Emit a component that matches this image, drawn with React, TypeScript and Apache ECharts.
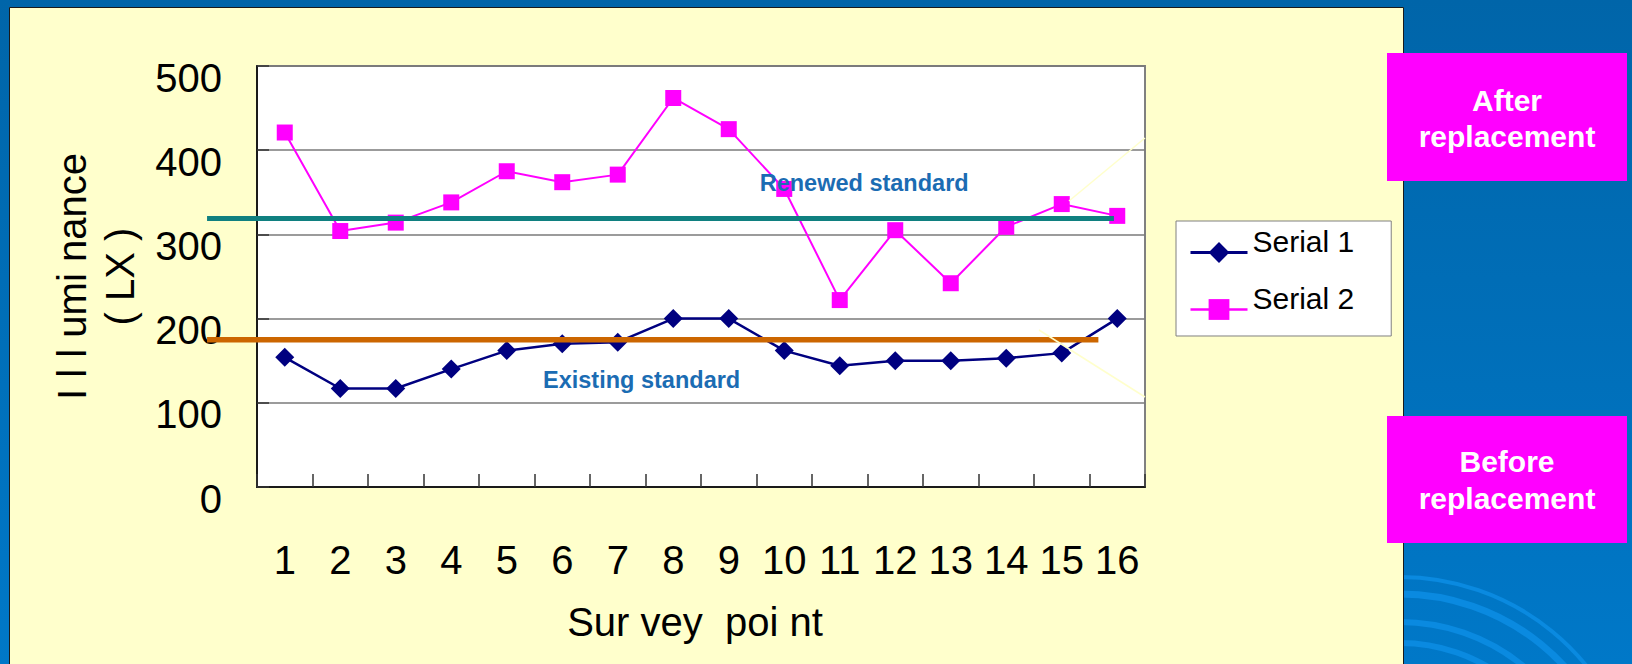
import React, { useEffect, useRef } from "react";
import * as echarts from "echarts";

const categories = ["1", "2", "3", "4", "5", "6", "7", "8", "9", "10", "11", "12", "13", "14", "15", "16"];
const serial1 = [154, 117, 117, 140, 162, 170, 172, 200, 200, 162, 144, 150, 150, 153, 159, 200];
const serial2 = [421, 304, 314, 338, 375, 362, 371, 462, 425, 354, 222, 305, 242, 309, 336, 322];
const seriesNames = ["Serial 1", "Serial 2"];
const renewedStandard = 319;
const existingStandard = 175;
const renewedLabel = "Renewed standard";
const existingLabel = "Existing standard";
const yMin = 0;
const yMax = 500;
const yInterval = 100;
const xAxisTitle = "Sur vey  poi nt";
const yAxisTitle = "I l l umi nance\n( LX )";
const afterText = "After\nreplacement";
const beforeText = "Before\nreplacement";

const FONT = "'Liberation Sans', Arial, 'Noto Sans CJK SC', sans-serif";

export default function App() {
  const ref = useRef<HTMLDivElement>(null);

  useEffect(() => {
    const el = ref.current!;
    const chart = echarts.init(el, null, { renderer: "svg", width: 1632, height: 664 });

    const baseGraphics: any[] = [
      {
        id: "bg",
        type: "rect",
        z: -20,
        silent: true,
        shape: { x: 0, y: 0, width: 1632, height: 664 },
        style: {
          fill: {
            type: "linear", x: 0, y: 0, x2: 0, y2: 1,
            colorStops: [
              { offset: 0, color: "#0065A9" },
              { offset: 1, color: "#0078C8" },
            ],
          },
        },
      },
      ...[
        { r: 240, w: 4 },
        { r: 223, w: 7 },
        { r: 195, w: 6 },
        { r: 174, w: 6 },
      ].map((a, i) => ({
        id: "arc" + i,
        type: "arc",
        z: -15,
        silent: true,
        shape: { cx: 1400, cy: 817, r: a.r, startAngle: -Math.PI / 2, endAngle: -0.2 },
        style: { stroke: "#0A8AE0", lineWidth: a.w, fill: "none" },
      })),
      {
        id: "panel",
        type: "rect",
        z: -10,
        silent: true,
        shape: { x: 9.5, y: 7.5, width: 1394, height: 700 },
        style: { fill: "#FFFFCC", stroke: "#1A1A1A", lineWidth: 1 },
      },
      {
        id: "afterBox",
        type: "rect",
        z: 50,
        shape: { x: 1387, y: 53, width: 240, height: 128 },
        style: { fill: "#FF00FF" },
      },
      {
        id: "afterText",
        type: "text",
        z: 51,
        x: 1507,
        y: 118,
        style: {
          text: afterText,
          fill: "#FFFFFF",
          font: "bold 30px " + FONT,
          align: "center",
          verticalAlign: "middle",
          lineHeight: 36,
        },
      },
      {
        id: "beforeBox",
        type: "rect",
        z: 50,
        shape: { x: 1387, y: 416, width: 240, height: 127 },
        style: { fill: "#FF00FF" },
      },
      {
        id: "beforeText",
        type: "text",
        z: 51,
        x: 1507,
        y: 480,
        style: {
          text: beforeText,
          fill: "#FFFFFF",
          font: "bold 30px " + FONT,
          align: "center",
          verticalAlign: "middle",
          lineHeight: 37,
        },
      },
      {
        id: "pale1",
        type: "line",
        z: 40,
        silent: true,
        shape: { x1: 1069, y1: 201, x2: 1145, y2: 138 },
        style: { stroke: "#FFFFCC", lineWidth: 1.5 },
      },
      {
        id: "pale2",
        type: "line",
        z: 40,
        silent: true,
        shape: { x1: 1039, y1: 330, x2: 1145, y2: 397 },
        style: { stroke: "#FFFFCC", lineWidth: 1.5 },
      },
    ];

    const option: any = {
      animation: false,
      textStyle: { fontFamily: FONT },
      grid: {
        left: 257,
        top: 66,
        right: 487,
        bottom: 177,
        show: true,
        backgroundColor: "#FFFFFF",
        borderColor: "#808080",
        borderWidth: 2,
        outerBoundsMode: "none",
      },
      legend: {
        orient: "vertical",
        left: 1176,
        top: 221,
        padding: [5, 37, 0, 13],
        itemGap: 4,
        itemWidth: 57,
        itemHeight: 26,
        backgroundColor: "#FFFFFF",
        borderColor: "#808080",
        borderWidth: 1,
        borderRadius: 0,
        data: [
          { name: seriesNames[0], lineStyle: { width: 3 } },
          { name: seriesNames[1], lineStyle: { width: 2.5 } },
        ],
        formatter: (name: string) => name + "\n",
        textStyle: {
          fontSize: 30,
          color: "#000000",
          fontFamily: FONT,
          lineHeight: 23,
        },
      },
      xAxis: {
        type: "category",
        data: categories,
        boundaryGap: true,
        name: xAxisTitle,
        nameLocation: "middle",
        nameGap: 115,
        nameTextStyle: {
          fontSize: 40,
          color: "#000000",
          fontFamily: FONT,
          padding: [0, 12, 0, 0],
        },
        axisLine: { show: true, lineStyle: { color: "#1A1A1A", width: 2 } },
        axisTick: { show: true, inside: true, length: 13, lineStyle: { color: "#333333", width: 1.5 } },
        axisLabel: {
          fontSize: 40,
          color: "#000000",
          margin: 53,
          interval: 0,
          fontFamily: FONT,
        },
        splitLine: { show: false },
      },
      yAxis: {
        type: "value",
        min: yMin,
        max: yMax,
        interval: yInterval,
        name: yAxisTitle,
        nameLocation: "middle",
        nameRotate: 90,
        nameGap: 94,
        nameTextStyle: {
          fontSize: 40,
          lineHeight: 48,
          color: "#000000",
          fontFamily: FONT,
        },
        axisLine: { show: true, lineStyle: { color: "#1A1A1A", width: 2 } },
        axisTick: { show: true, inside: true, length: 12, lineStyle: { color: "#333333", width: 1.5 } },
        axisLabel: {
          fontSize: 40,
          color: "#000000",
          margin: 35,
          fontFamily: FONT,
          verticalAlign: "top",
          lineHeight: 23,
        },
        splitLine: { show: true, lineStyle: { color: "#7A7A7A", width: 1.5 } },
      },
      series: [
        {
          name: seriesNames[0],
          type: "line",
          data: serial1,
          symbol: "diamond",
          symbolSize: 19,
          color: "#000080",
          lineStyle: { color: "#000080", width: 2.5 },
          itemStyle: { color: "#000080" },
          z: 3,
        },
        {
          name: seriesNames[1],
          type: "line",
          data: serial2,
          symbol: "rect",
          symbolSize: 16,
          color: "#FF00FF",
          lineStyle: { color: "#FF00FF", width: 2 },
          itemStyle: { color: "#FF00FF" },
          z: 3,
        },
      ],
      graphic: { elements: baseGraphics },
    };

    chart.setOption(option);

    const x0 = chart.convertToPixel({ xAxisIndex: 0 }, 0) as number;
    const x1 = chart.convertToPixel({ xAxisIndex: 0 }, 1) as number;
    const step = x1 - x0;
    const xAt = (idx: number) => x0 + step * idx;
    const yR = chart.convertToPixel({ yAxisIndex: 0 }, renewedStandard) as number;
    const yE = chart.convertToPixel({ yAxisIndex: 0 }, existingStandard) as number;

    const overlay: any[] = [
      {
        id: "renewedLine",
        type: "line",
        z: 30,
        silent: true,
        shape: { x1: xAt(-1.4), y1: yR, x2: xAt(14.94), y2: yR },
        style: { stroke: "#108080", lineWidth: 5 },
      },
      {
        id: "existingLine",
        type: "line",
        z: 30,
        silent: true,
        shape: { x1: xAt(-1.4), y1: yE, x2: xAt(14.66), y2: yE },
        style: { stroke: "#CC6600", lineWidth: 5.5 },
      },
      {
        id: "renewedText",
        type: "text",
        z: 31,
        x: xAt(10.44),
        y: yR - 35,
        style: {
          text: renewedLabel,
          fill: "#1B6CB3",
          font: "bold 23.5px " + FONT,
          align: "center",
          verticalAlign: "middle",
        },
      },
      {
        id: "existingText",
        type: "text",
        z: 31,
        x: xAt(6.43),
        y: yE + 40,
        style: {
          text: existingLabel,
          fill: "#1B6CB3",
          font: "bold 23.5px " + FONT,
          align: "center",
          verticalAlign: "middle",
        },
      },
    ];

    chart.setOption({ graphic: { elements: [...baseGraphics, ...overlay] } });

    return () => {
      chart.dispose();
    };
  }, []);

  return (
    <div
      ref={ref}
      style={{ position: "absolute", left: 0, top: 0, width: 1632, height: 664 }}
    />
  );
}
